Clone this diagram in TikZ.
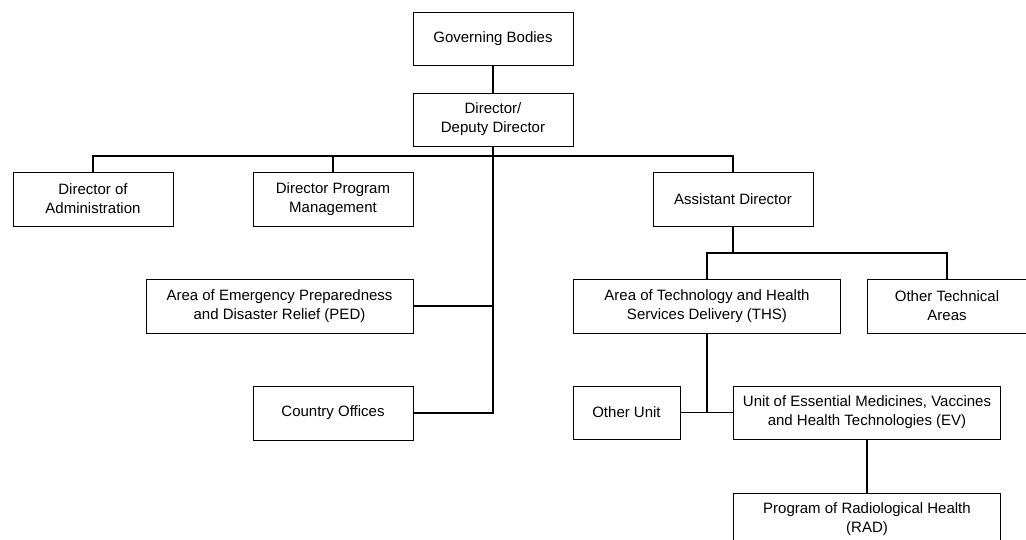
\documentclass[tikz,border=0pt]{standalone}
\usepackage{fontspec}
\setmainfont{Liberation Sans}
\begin{document}
\begin{tikzpicture}[x=1pt,y=-1pt,
  unit/.style={draw, line width=0.9pt, fill=white, align=center, inner sep=0pt,
    font=\fontsize{15}{19}\selectfont},
  link/.style={line width=1.2pt}]
\useasboundingbox (0,0) rectangle (1026,540);

% top of the hierarchy
\node[unit, minimum width=160, minimum height=53] (gb)  at (493,39)    {Governing Bodies};
\node[unit, minimum width=160, minimum height=53] (dir) at (493,119.5) {Director/\\Deputy Director};

% second level
\node[unit, minimum width=160, minimum height=54] (adm) at (93,199)  {Director of\\Administration};
\node[unit, minimum width=160, minimum height=54] (dpm) at (333,199) {Director Program\\Management};
\node[unit, minimum width=160, minimum height=54] (ad)  at (733,199) {Assistant Director};

% units reporting to the director
\node[unit, minimum width=267, minimum height=54] (ped) at (279.5,306) {Area of Emergency Preparedness\\and Disaster Relief (PED)};
\node[unit, minimum width=160, minimum height=54] (co)  at (333,413)   {Country Offices};

% technical areas
\node[unit, minimum width=267, minimum height=54] (ths) at (707,306) {Area of Technology and Health\\Services Delivery (THS)};
\node[unit, minimum width=160, minimum height=54] (ota) at (947,306) {Other Technical\\Areas};

% units of THS
\node[unit, minimum width=107, minimum height=53] (ou)  at (626.5,412.5) {Other Unit};
\node[unit, minimum width=267, minimum height=53] (ev)  at (867,412.5)   {Unit of Essential Medicines, Vaccines\\and Health Technologies (EV)};
\node[unit, minimum width=267, minimum height=53] (rad) at (867,519.5)   {Program of Radiological Health\\(RAD)};

% junction points
\coordinate (bus1) at (493,156);
\coordinate (pedj) at (493,306);
\coordinate (coj)  at (493,413);
\coordinate (bus2) at (733,253);
\coordinate (bus3) at (ths.south |- ou.east);

% connectors
\draw[link] (gb) -- (dir);
\draw[link] (adm.north) |- (bus1) -| (ad.north);
\draw[link] (dpm.north) -- (dpm.north |- bus1);
\draw[link] (dir.south) -- (coj) -- (co.east);
\draw[link] (ped.east) -- (pedj);
\draw[link] (ad.south) -- (bus2);
\draw[link] (ths.north) |- (bus2) -| (ota.north);
\draw[link] (ths.south) -- (bus3);
\draw[link] (ou.east) -- (ev.west);
\draw[link] (ev) -- (rad);
\end{tikzpicture}
\end{document}
